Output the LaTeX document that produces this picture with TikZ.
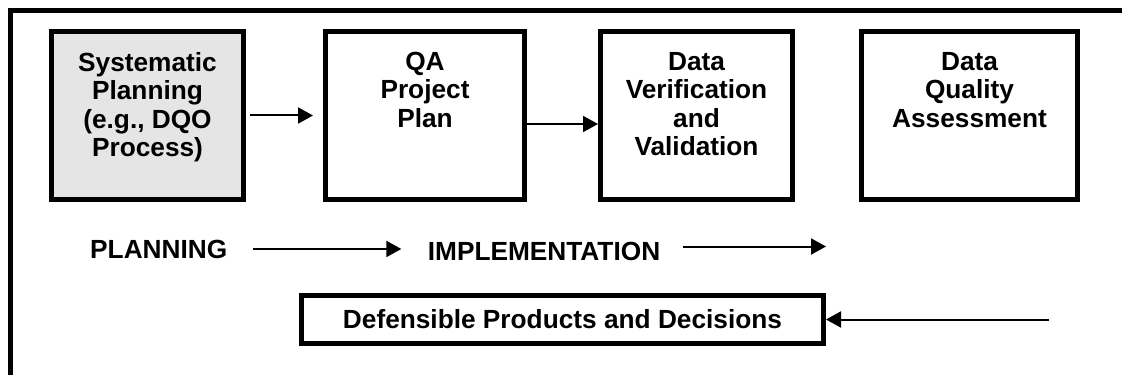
\documentclass[tikz,border=0pt]{standalone}
\usepackage{fontspec}
\setmainfont{Liberation Sans}
\usetikzlibrary{positioning, arrows.meta}
\newcommand{\boxtext}[2]{\parbox[c][50.8pt][t]{#1}{\centering #2}}
\tikzstyle{stage} = [rectangle, draw=black, line width=2pt, minimum height=67.2pt, inner sep=0pt, font=\bfseries\fontsize{10.5pt}{11.4pt}\selectfont]
\tikzstyle{phase} = [inner sep=0pt, font=\bfseries\fontsize{10.5pt}{11.4pt}\selectfont]
\tikzstyle{arrow} = [line width=0.8pt, -{Triangle[length=6pt, width=6.4pt]}]

\begin{document}
\begin{tikzpicture}
        \useasboundingbox (0,0) rectangle (448.8pt,150pt);
        % frame, only top and left edges are seen
        \draw [line width=1.8pt] (4.2pt,0pt) -- (4.2pt,145.8pt) -- (448.8pt,145.8pt);

        \node (plan) [stage, fill=gray!20, minimum width=76.8pt] at (59pt,103.8pt) {\boxtext{76.8pt}{Systematic\\Planning\\(e.g., DQO\\Process)}};
        \node (qapp) [stage, right=30.8pt of plan] {\boxtext{79.6pt}{QA\\Project\\Plan}};
        \node (verify) [stage, right=28.4pt of qapp] {\boxtext{76.8pt}{Data\\Verification\\and\\Validation}};
        \node (assess) [stage, right=25.6pt of verify] {\boxtext{86.4pt}{Data\\Quality\\Assessment}};

        \draw [arrow, shorten <=1.6pt, shorten >=4pt] (plan) -- (qapp);
        \draw [arrow] ([yshift=-3.4pt]qapp.east) -- ([yshift=-3.4pt]verify.west);

        \node (planning) [phase, anchor=base] at (63.5pt,46.8pt) {PLANNING};
        \node (implement) [phase, anchor=base] at (217.6pt,46pt) {IMPLEMENTATION};
        \coordinate (implend) at (330.4pt,51.4pt);

        \draw [arrow, shorten <=10pt, shorten >=10.4pt] (planning.east) -- (planning.east -| implement.west);
        \draw [arrow, shorten <=8.8pt] (implement.east |- implend) -- (implend);

        \node (decide) [stage, minimum height=19.2pt, minimum width=208.8pt] at (225pt,22.2pt) {Defensible Products and Decisions};
        \coordinate (decidefrom) at (419.6pt,22.2pt);

        \draw [arrow] (decidefrom) -- (decide.east);

\end{tikzpicture}
\end{document}
